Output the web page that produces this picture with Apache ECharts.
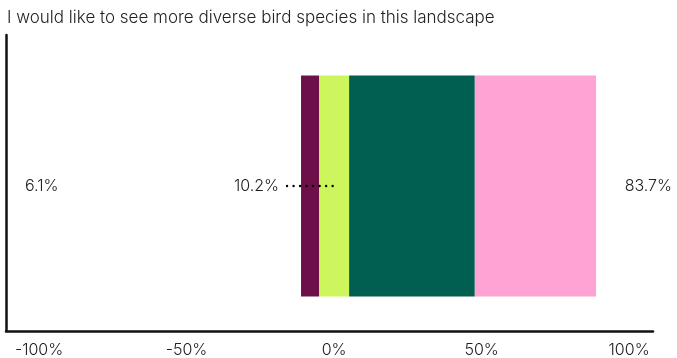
<!DOCTYPE html>
<html>
<head>
<meta charset="utf-8">
<style>
  html, body { margin: 0; padding: 0; background: #fff; }
  #chart { width: 677px; height: 358px; }
</style>
<script src="https://cdn.jsdelivr.net/npm/echarts@6/dist/echarts.min.js"></script>
</head>
<body>
<div id="chart"></div>
<script>
// Survey statement and response shares (percent of respondents)
const statement = 'I would like to see more diverse bird species in this landscape';
const categories = ['birds'];
const disagree = [6.1];
const neutral = [10.2];
const agree = [42.6];
const stronglyAgree = [41.1];
const tickValues = [-100, -50, 0, 50, 100];

const colors = {
  disagree: '#6d1049',
  neutral: '#ccf65b',
  agree: '#005f50',
  stronglyAgree: '#ffa3d4'
};
const textColor = '#222222';
const fontFamily = 'Inter, "Noto Sans", sans-serif';
const fontWeight = 300;
const labelSize = 16;

// Neutral share is split around zero so the bar diverges from the middle
const neutralNeg = neutral.map(v => -v / 2);
const neutralPos = neutral.map(v => v / 2);
const disagreeNeg = disagree.map(v => -v);

const agreeTotal = agree.map((v, i) => +(v + stronglyAgree[i]).toFixed(1));

const chart = echarts.init(document.getElementById('chart'), null, { renderer: 'canvas' });

const barBase = {
  type: 'bar',
  stack: 'likert',
  barWidth: 221,
  silent: true,
  emphasis: { disabled: true }
};

const axisLineStyle = { color: '#111', width: 2.5 };

chart.setOption({
  animation: false,
  textStyle: { fontFamily: fontFamily },
  title: {
    text: statement,
    left: 2,
    top: 4,
    textStyle: { fontFamily: fontFamily, fontSize: 17, fontWeight: fontWeight, color: textColor }
  },
  grid: [
    // plot area holding the bar
    { left: 6, right: 24, top: 41, bottom: 27 },
    // frame whose left edge carries the tall vertical rule
    { left: 6, right: 24, top: 35, bottom: 27 }
  ],
  xAxis: [
    {
      type: 'value',
      gridIndex: 0,
      min: -111.2,
      max: 108.1,
      splitLine: { show: false },
      axisTick: { show: false },
      axisLine: { show: true, onZero: false, lineStyle: axisLineStyle },
      axisLabel: {
        customValues: tickValues,
        formatter: v => v + '%',
        color: textColor,
        fontSize: labelSize,
        fontWeight: fontWeight,
        fontFamily: fontFamily,
        margin: 11
      }
    },
    { type: 'value', gridIndex: 1, show: false }
  ],
  yAxis: [
    {
      type: 'category',
      gridIndex: 0,
      data: categories,
      axisTick: { show: false },
      axisLabel: { show: false },
      axisLine: { show: false }
    },
    {
      type: 'category',
      gridIndex: 1,
      data: categories,
      axisTick: { show: false },
      axisLabel: { show: false },
      axisLine: { show: true, onZero: false, lineStyle: axisLineStyle }
    }
  ],
  series: [
    Object.assign({}, barBase, { name: 'Neutral', data: neutralNeg, itemStyle: { color: colors.neutral } }),
    Object.assign({}, barBase, { name: 'Disagree', data: disagreeNeg, itemStyle: { color: colors.disagree } }),
    Object.assign({}, barBase, { name: 'Neutral ', data: neutralPos, itemStyle: { color: colors.neutral } }),
    Object.assign({}, barBase, { name: 'Agree', data: agree, itemStyle: { color: colors.agree } }),
    Object.assign({}, barBase, { name: 'Strongly agree', data: stronglyAgree, itemStyle: { color: colors.stronglyAgree } })
  ]
});

// Summary labels: disagree on the left, neutral beside the bar, agree on the right
const zeroPt = chart.convertToPixel({ xAxisIndex: 0, yAxisIndex: 0 }, [0, categories[0]]);
const cy = zeroPt[1];
const labelStyle = {
  fill: textColor, fontSize: labelSize, fontWeight: fontWeight,
  fontFamily: fontFamily, verticalAlign: 'middle'
};

chart.setOption({
  graphic: [
    {
      type: 'text', x: 25, y: cy,
      style: Object.assign({ text: disagree[0].toFixed(1) + '%', align: 'left' }, labelStyle)
    },
    {
      type: 'text', x: zeroPt[0] - 55, y: cy,
      style: Object.assign({ text: neutral[0].toFixed(1) + '%', align: 'right' }, labelStyle)
    },
    {
      type: 'line', z: 10,
      shape: { x1: zeroPt[0] - 47, y1: cy, x2: zeroPt[0] + 1, y2: cy },
      style: { stroke: '#000', lineWidth: 2.4, lineCap: 'round', lineDash: [0.01, 6.5] }
    },
    {
      type: 'text', x: 672, y: cy,
      style: Object.assign({ text: agreeTotal[0].toFixed(1) + '%', align: 'right' }, labelStyle)
    }
  ]
});
</script>
</body>
</html>
